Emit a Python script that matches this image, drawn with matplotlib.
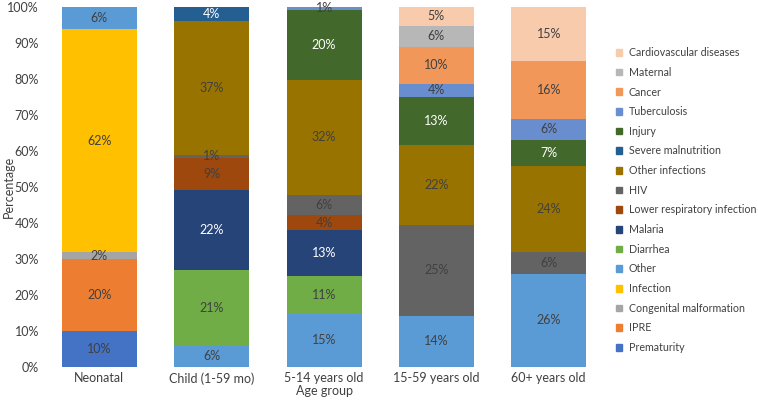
import numpy as np
import matplotlib.pyplot as plt
from matplotlib.patches import Patch

plt.rcParams['font.family'] = ['Lato', 'DejaVu Sans']

groups = ['Neonatal', 'Child (1-59 mo)', '5-14 years old', '15-59 years old', '60+ years old']

# causes, bottom to top of the stack
causes = ['Prematurity', 'IPRE', 'Congenital malformation', 'Infection', 'Other',
          'Diarrhea', 'Malaria', 'Lower respiratory infection', 'HIV', 'Other infections',
          'Severe malnutrition', 'Injury', 'Tuberculosis', 'Cancer', 'Maternal',
          'Cardiovascular diseases']

# percentage per age group (Neonatal, Child, 5-14, 15-59, 60+)
prematurity  = [9.8, 0, 0, 0, 0]
ipre         = [20.1, 0, 0, 0, 0]
congenital   = [1.95, 0, 0, 0, 0]
infection    = [62.0, 0, 0, 0, 0]
other        = [6.2, 5.8, 14.6, 14.2, 25.8]
diarrhea     = [0, 21.1, 10.6, 0, 0]
malaria      = [0, 22.1, 12.7, 0, 0]
lri          = [0, 9.1, 4.2, 0, 0]
hiv          = [0, 0.8, 5.7, 25.3, 6.0]
other_inf    = [0, 37.1, 31.9, 22.2, 23.9]
severe_maln  = [0, 4.0, 0, 0, 0]
injury       = [0, 0, 19.5, 13.2, 7.2]
tuberculosis = [0, 0, 0.8, 3.8, 6.1]
cancer       = [0, 0, 0, 10.3, 16.0]
maternal     = [0, 0, 0, 5.8, 0]
cardio       = [0, 0, 0, 5.2, 15.0]

series = [prematurity, ipre, congenital, infection, other, diarrhea, malaria, lri,
          hiv, other_inf, severe_maln, injury, tuberculosis, cancer, maternal, cardio]

colors = ['#4472C4', '#ED7D31', '#A5A5A5', '#FFC000', '#5B9BD5', '#70AD47',
          '#264478', '#9E480E', '#636363', '#997300', '#255E91', '#43682B',
          '#698ED0', '#F1975A', '#B7B7B7', '#F8CBAD']
light_text = {'Malaria', 'Severe malnutrition', 'Injury'}

fig = plt.figure(figsize=(7.58, 4.01), dpi=100)
ax = fig.add_axes([0.057, 0.0855, 0.741, 0.897])

x = np.arange(len(groups))
bottom = np.zeros(len(groups))
for name, vals, col in zip(causes, series, colors):
    vals = np.array(vals, dtype=float)
    ax.bar(x, vals, 0.667, bottom=bottom, color=col, label=name)
    tc = 'white' if name in light_text else '#404040'
    for xi, v, b in zip(x, vals, bottom):
        if v > 0:
            ax.text(xi, b + v / 2, f'{round(v):.0f}%', ha='center', va='center',
                    fontsize=9, color=tc)
    bottom += vals

ax.set_xlim(-0.5, len(groups) - 0.5)
ax.set_ylim(0, 100)
ax.set_yticks(np.arange(0, 101, 10))
ax.set_yticklabels([f'{t}%' for t in range(0, 101, 10)])
ax.set_xticks(x)
ax.set_xticklabels(groups)
ax.tick_params(length=0, labelsize=9, colors='#404040')
ax.tick_params(axis='x', pad=4)
ax.tick_params(axis='y', pad=3)
for s in ax.spines.values():
    s.set_visible(False)
fig.text(324 / 758, 1 - 391 / 401, 'Age group', ha='center', va='center',
         fontsize=9, color='#404040')
fig.text(9 / 758, 1 - 187 / 401, 'Percentage', ha='center', va='center',
         rotation=90, fontsize=9, color='#404040')

handles = [Patch(color=c, label=n) for n, c in zip(causes, colors)][::-1]
leg = fig.legend(handles=handles, loc='upper left', bbox_to_anchor=(0.807, 0.893),
                 frameon=False, fontsize=7.7, handlelength=0.6, handleheight=0.6,
                 handletextpad=0.6, labelspacing=0.81, borderaxespad=0)
for t in leg.get_texts():
    t.set_color('#404040')

fig.savefig('out.png', dpi=100)
